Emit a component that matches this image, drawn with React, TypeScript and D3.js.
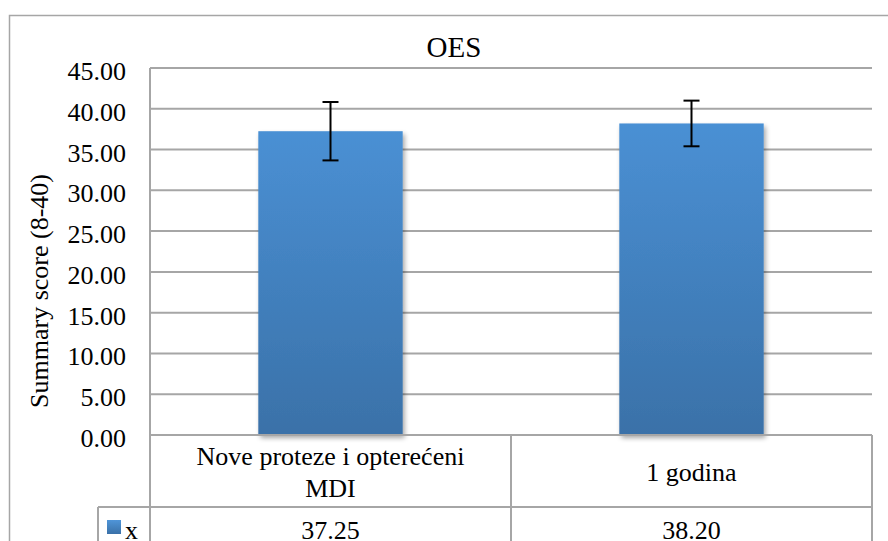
import React from "react";
import * as d3 from "d3";

const title = "OES";
const yAxisLabel = "Summary score (8-40)";
const seriesName = "x";
const categories = ["Nove proteze i opterećeni MDI", "1 godina"];
const categoryLines = [["Nove proteze i opterećeni", "MDI"], ["1 godina"]];
const values = [37.25, 38.2];
const errors = [3.58, 2.8];
const yTicks = [0, 5, 10, 15, 20, 25, 30, 35, 40, 45];

const W = 888;
const H = 541;
const FONT = "Liberation Serif";

export default function App() {
  const left = 150;
  const right = 872;
  const top = 68;
  const bottom = 435;
  const rowH = 72;

  const y = d3.scaleLinear().domain([0, 45]).range([bottom, top]);
  const x = d3.scaleBand<string>().domain(categories).range([left, right]).paddingInner(0).paddingOuter(0);
  const bw = x.bandwidth() * 0.4;
  const fmt = d3.format(".2f");
  const grid = "#a6a6a6";
  const ts = { fontFamily: FONT };

  return (
    <svg width={W} height={H} style={{ position: "absolute", left: 0, top: 0, display: "block", background: "#fff", fontFamily: FONT }}>
      <defs>
        <linearGradient id="barGrad" x1="0" y1="0" x2="0" y2="1">
          <stop offset="0" stopColor="#4a90d4" />
          <stop offset="1" stopColor="#3a71a8" />
        </linearGradient>
        <linearGradient id="legGrad" x1="0" y1="0" x2="0" y2="1">
          <stop offset="0" stopColor="#4f95d8" />
          <stop offset="1" stopColor="#3a71a8" />
        </linearGradient>
        <filter id="shadow" x="-10%" y="-10%" width="130%" height="130%">
          <feGaussianBlur in="SourceAlpha" stdDeviation="2.5" />
          <feOffset dx="2" dy="3" result="ob" />
          <feComponentTransfer>
            <feFuncA type="linear" slope="0.35" />
          </feComponentTransfer>
          <feMerge>
            <feMergeNode />
            <feMergeNode in="SourceGraphic" />
          </feMerge>
        </filter>
      </defs>

      {/* outer chart border */}
      <rect x={9.5} y={15.5} width={900} height={600} fill="none" stroke={grid} strokeWidth={1.5} />

      {/* title */}
      <text x={454} y={57} textAnchor="middle" fontSize={29} fill="#000" style={ts}>{title}</text>

      {/* gridlines */}
      {yTicks.map((t) => (
        <line key={t} x1={left} x2={right} y1={y(t)} y2={y(t)} stroke={grid} strokeWidth={2} />
      ))}

      {/* y tick labels */}
      {yTicks.map((t) => (
        <text key={"l" + t} x={126} y={y(t) + 12} textAnchor="end" fontSize={26} fill="#000" style={ts}>{fmt(t)}</text>
      ))}

      {/* y axis label */}
      <text transform={`translate(48,291) rotate(-90)`} textAnchor="middle" fontSize={26} fill="#000" style={ts}>{yAxisLabel}</text>

      {/* bars */}
      {categories.map((c, i) => {
        const cx = (x(c) as number) + x.bandwidth() / 2;
        return (
          <rect key={c} x={cx - bw / 2} y={y(values[i])} width={bw} height={bottom - y(values[i])} fill="url(#barGrad)" filter="url(#shadow)" />
        );
      })}

      {/* error bars */}
      {categories.map((c, i) => {
        const cx = (x(c) as number) + x.bandwidth() / 2;
        const hi = y(values[i] + errors[i]);
        const lo = y(values[i] - errors[i]);
        return (
          <g key={"e" + c} stroke="#000" strokeWidth={2}>
            <line x1={cx} x2={cx} y1={hi} y2={lo} />
            <line x1={cx - 8} x2={cx + 8} y1={hi} y2={hi} />
            <line x1={cx - 8} x2={cx + 8} y1={lo} y2={lo} />
          </g>
        );
      })}

      {/* data table lines */}
      <g stroke={grid} strokeWidth={2} fill="none">
        <line x1={left} x2={left} y1={top} y2={H + 5} />
        <line x1={left} x2={right} y1={bottom} y2={bottom} />
        <line x1={98} x2={right} y1={bottom + rowH} y2={bottom + rowH} />
        <line x1={98} x2={98} y1={bottom + rowH} y2={H + 5} />
        {categories.map((c) => (
          <line key={"v" + c} x1={(x(c) as number) + x.bandwidth()} x2={(x(c) as number) + x.bandwidth()} y1={bottom} y2={H + 5} />
        ))}
      </g>

      {/* category labels */}
      {categories.map((c, i) => {
        const cx = (x(c) as number) + x.bandwidth() / 2;
        const lines = categoryLines[i];
        const lh = 32;
        const base = bottom + rowH / 2 + 10 - ((lines.length - 1) * lh) / 2;
        return (
          <text key={"c" + c} textAnchor="middle" fontSize={26} fill="#000" style={ts}>
            {lines.map((ln, k) => (
              <tspan key={k} x={cx} y={base + k * lh}>{ln}</tspan>
            ))}
          </text>
        );
      })}

      {/* legend cell */}
      <rect x={107} y={520} width={14} height={14} fill="url(#legGrad)" />
      <text x={125} y={539} fontSize={26} fill="#000" style={ts}>{seriesName}</text>

      {/* values row */}
      {categories.map((c, i) => {
        const cx = (x(c) as number) + x.bandwidth() / 2;
        return (
          <text key={"v" + c} x={cx} y={539} textAnchor="middle" fontSize={26} fill="#000" style={ts}>{fmt(values[i])}</text>
        );
      })}
    </svg>
  );
}
